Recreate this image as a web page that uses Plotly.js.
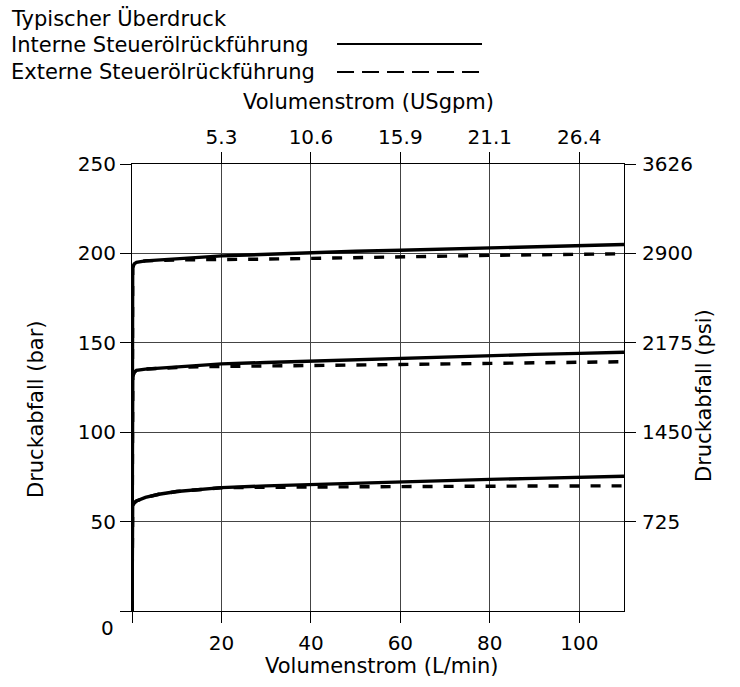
<!DOCTYPE html>
<html>
<head>
<meta charset="utf-8">
<script src="https://cdn.plot.ly/plotly-3.0.1.min.js"></script>
<style>html,body{margin:0;padding:0;background:#fff;}</style>
</head>
<body>
<div id="chart" style="width:740px;height:687px;"></div>
<script>
// Flow (L/min) sample points
const flowLmin = [0, 0, 0.15, 0.5, 1, 3, 6, 10, 15, 20, 30, 40, 50, 60, 70, 80, 90, 100, 110];
// Internal pilot drain (solid)
const lowInternal  = [0, 55, 59, 60.5, 61.5, 63.5, 65.3, 66.8, 68, 69, 70, 70.8, 71.6, 72.3, 73, 73.6, 74.2, 74.7, 75.4];
const midInternal  = [0, 126, 131, 133.5, 134.6, 135.3, 135.8, 136.4, 137.3, 138.2, 139, 139.8, 140.6, 141.3, 142.1, 142.9, 143.5, 144.1, 144.7];
const highInternal = [0, 187, 192, 194.2, 195, 195.8, 196.4, 197.1, 197.8, 198.6, 199.6, 200.5, 201.2, 201.8, 202.5, 203.1, 203.7, 204.4, 205];
// External pilot drain (dashed)
const lowExternal  = [0, 55, 59, 60.5, 61.5, 63.5, 65.3, 66.8, 68, 68.9, 69.2, 69.4, 69.5, 69.6, 69.7, 69.8, 69.9, 70, 70];
const midExternal  = [0, 126, 131, 133.5, 134.6, 135.3, 135.8, 136.2, 136.6, 136.8, 137, 137.3, 137.6, 137.9, 138.2, 138.5, 138.8, 139.1, 139.4];
const highExternal = [0, 187, 192, 194.2, 195, 195.8, 196.2, 196.4, 196.5, 196.5, 196.8, 197.2, 197.7, 198.2, 198.6, 198.9, 199.2, 199.5, 199.8];

// Axes
const xRange = [0, 110];
const yRange = [0, 250];
const xTickVals = [0, 20, 40, 60, 80, 100];
const xTickText = ['', '20', '40', '60', '80', '100'];
const gpmTickVals = [20, 40, 60, 80, 100];
const gpmTickText = ['5.3', '10.6', '15.9', '21.1', '26.4'];
const barTickVals = [0, 50, 100, 150, 200, 250];
const barTickText = ['', '50', '100', '150', '200', '250'];
const psiTickVals = [50, 100, 150, 200, 250];
const psiTickText = ['725', '1450', '2175', '2900', '3626'];

const FONT = 'DejaVu Sans, sans-serif';
const fs = 20;
const fsT = 21;

const solid = {color: '#000', width: 3.4};
const dashed = {color: '#000', width: 3.4, dash: '10px,11px'};

function tr(y, line) {
  return {x: flowLmin, y: y, type: 'scatter', mode: 'lines', line: line,
          hoverinfo: 'skip', showlegend: false};
}

const data = [
  tr(lowExternal, dashed), tr(midExternal, dashed), tr(highExternal, dashed),
  tr(lowInternal, solid), tr(midInternal, solid), tr(highInternal, solid),
  {x: xRange, y: yRange, xaxis: 'x2', yaxis: 'y2', type: 'scatter', mode: 'lines',
   line: {width: 0}, opacity: 0, hoverinfo: 'skip', showlegend: false}
];

const axCommon = {
  showline: true, linecolor: '#000', linewidth: 1,
  ticks: 'outside', ticklen: 11, tickwidth: 1, tickcolor: '#000',
  tickfont: {family: FONT, size: fs, color: '#000'},
  zeroline: false, fixedrange: true
};

const layout = {
  width: 740, height: 687,
  margin: {l: 132, r: 116, t: 164, b: 76},
  paper_bgcolor: '#fff', plot_bgcolor: '#fff',
  font: {family: FONT, size: fs, color: '#000'},
  xaxis: Object.assign({}, axCommon, {
    range: xRange, tickmode: 'array', tickvals: xTickVals, ticktext: xTickText,
    showgrid: true, gridcolor: '#444', gridwidth: 1, mirror: true, ticklabelstandoff: 3
  }),
  yaxis: Object.assign({}, axCommon, {
    range: yRange, tickmode: 'array', tickvals: barTickVals, ticktext: barTickText,
    showgrid: true, gridcolor: '#444', gridwidth: 1, mirror: true
  }),
  xaxis2: Object.assign({}, axCommon, {
    range: xRange, overlaying: 'x', side: 'top', anchor: 'y',
    tickmode: 'array', tickvals: gpmTickVals, ticktext: gpmTickText,
    showgrid: false, showline: false
  }),
  yaxis2: Object.assign({}, axCommon, {
    range: yRange, overlaying: 'y', side: 'right', anchor: 'x',
    tickmode: 'array', tickvals: psiTickVals, ticktext: psiTickText,
    showgrid: false, showline: false, ticklabelstandoff: 2
  }),
  shapes: [
    {type: 'line', xref: 'paper', yref: 'paper', x0: 0.4167, x1: 0.7114, y0: 1.2685, y1: 1.2685,
     line: {color: '#000', width: 2.2}},
    {type: 'line', xref: 'paper', yref: 'paper', x0: 0.4167, x1: 0.7114, y0: 1.2058, y1: 1.2058,
     line: {color: '#000', width: 2.2, dash: '17px,8px'}}
  ],
  annotations: [
    {text: 'Typischer Überdruck', xref: 'paper', yref: 'paper', x: -0.250, y: 1.3266,
     xanchor: 'left', yanchor: 'middle', showarrow: false, font: {family: FONT, size: fsT}},
    {text: 'Interne Steuerölrückführung', xref: 'paper', yref: 'paper', x: -0.250, y: 1.2662,
     xanchor: 'left', yanchor: 'middle', showarrow: false, font: {family: FONT, size: fsT}},
    {text: 'Externe Steuerölrückführung', xref: 'paper', yref: 'paper', x: -0.250, y: 1.2058,
     xanchor: 'left', yanchor: 'middle', showarrow: false, font: {family: FONT, size: fsT}},
    {text: 'Volumenstrom (USgpm)', xref: 'paper', yref: 'paper', x: (368 - 132) / 492, y: (611 - 102) / 447,
     xanchor: 'center', yanchor: 'middle', showarrow: false, font: {family: FONT, size: fsT}},
    {text: 'Volumenstrom (L/min)', xref: 'paper', yref: 'paper', x: (382 - 132) / 492, y: (611 - 666) / 447,
     xanchor: 'center', yanchor: 'middle', showarrow: false, font: {family: FONT, size: fsT}},
    {text: 'Druckabfall (bar)', xref: 'paper', yref: 'paper', x: (36 - 132) / 492, y: (611 - 410) / 447,
     xanchor: 'center', yanchor: 'middle', textangle: -90, showarrow: false, font: {family: FONT, size: fsT}},
    {text: 'Druckabfall (psi)', xref: 'paper', yref: 'paper', x: (704 - 132) / 492, y: (611 - 396) / 447,
     xanchor: 'center', yanchor: 'middle', textangle: -90, showarrow: false, font: {family: FONT, size: fsT}},
    {text: '0', xref: 'paper', yref: 'paper', x: (107 - 132) / 492, y: (611 - 628) / 447,
     xanchor: 'center', yanchor: 'middle', showarrow: false, font: {family: FONT, size: fs}}
  ]
};

Plotly.newPlot('chart', data, layout, {staticPlot: true, displayModeBar: false});
</script>
</body>
</html>
